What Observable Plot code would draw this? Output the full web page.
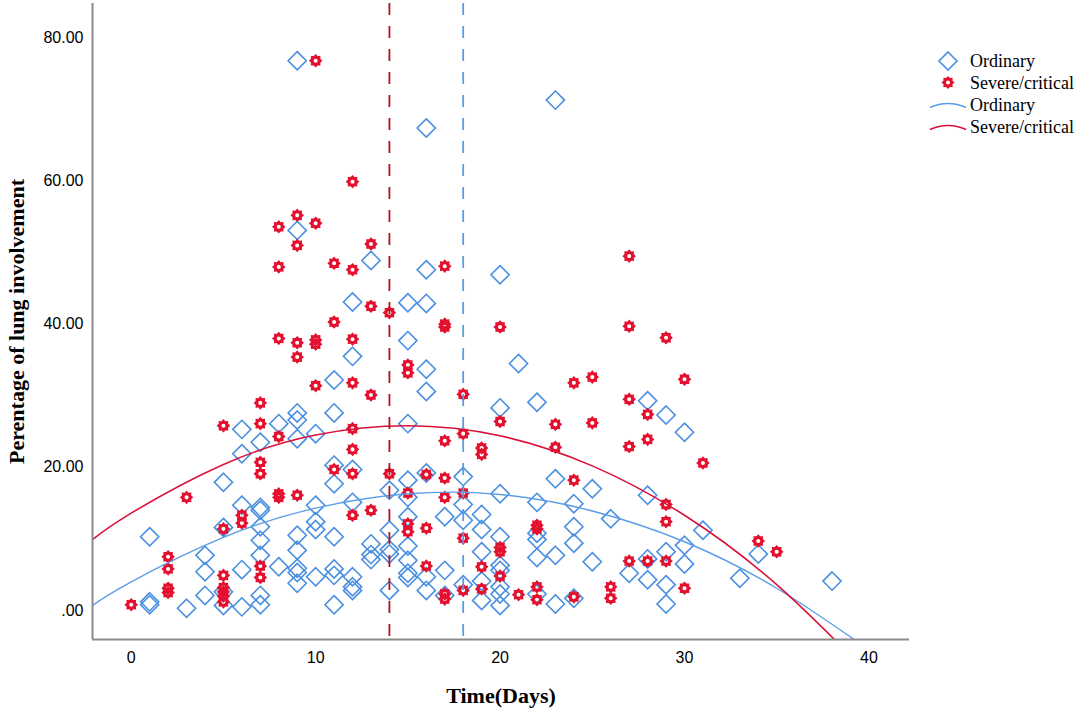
<!DOCTYPE html>
<html>
<head>
<meta charset="utf-8">
<script src="https://cdn.jsdelivr.net/npm/d3@7"></script>
<script src="https://cdn.jsdelivr.net/npm/@observablehq/plot@0.6"></script>
<style>
  html, body { margin: 0; padding: 0; background: #fff; }
  #wrap { position: relative; width: 1084px; height: 713px; }
  #legend { position: absolute; left: 920px; top: 44px; }
</style>
</head>
<body>
<div id="wrap"></div>
<script>
// ---- data: [day, percentage] ----
const ordinary = [
  [1,10.3],[1,1.2],[1,0.8],
  [3,0.3],
  [4,7.7],[4,5.4],[4,2.1],
  [5,17.9],[5,11.6],[5,2.6],[5,0.7],
  [6,25.3],[6,21.9],[6,14.7],[6,5.7],[6,0.5],
  [7,23.5],[7,14.4],[7,14.0],[7,11.7],[7,9.8],[7,7.7],[7,2.1],[7,0.8],
  [8,26.1],[8,6.1],
  [9,76.8],[9,53.1],[9,27.6],[9,26.6],[9,24.0],[9,10.5],[9,8.4],[9,5.9],[9,5.3],[9,3.8],
  [10,24.7],[10,14.7],[10,12.4],[10,11.3],[10,4.7],
  [11,32.2],[11,27.6],[11,20.3],[11,17.7],[11,10.3],[11,5.8],[11,4.9],[11,0.8],
  [12,43.1],[12,35.5],[12,19.7],[12,15.1],[12,4.7],[12,3.3],[12,2.8],
  [13,48.9],[13,9.3],[13,7.8],[13,7.1],
  [14,16.8],[14,11.2],[14,8.5],[14,7.9],[14,2.8],
  [15,43.0],[15,37.7],[15,26.1],[15,18.2],[15,15.8],[15,13.1],[15,9.0],[15,7.0],[15,5.2],[15,4.6],
  [16,67.4],[16,47.6],[16,42.9],[16,33.7],[16,30.6],[16,19.2],[16,4.7],[16,2.8],
  [17,13.1],[17,5.6],[17,2.1],
  [18,18.7],[18,14.8],[18,12.6],[18,3.6],
  [19,13.4],[19,11.3],[19,8.2],[19,4.1],[19,1.4],
  [20,46.9],[20,28.3],[20,16.3],[20,10.3],[20,6.3],[20,5.6],[20,3.3],[20,2.3],[20,0.7],
  [21,34.5],
  [22,29.1],[22,15.1],[22,10.8],[22,9.9],[22,7.4],[22,2.3],
  [23,71.3],[23,18.4],[23,7.7],[23,0.9],
  [24,14.9],[24,11.7],[24,9.4],[24,1.7],
  [25,17.0],[25,6.8],
  [26,12.8],
  [27,5.2],
  [28,29.3],[28,16.1],[28,7.2],[28,4.3],
  [29,27.3],[29,8.2],[29,3.6],[29,0.9],
  [30,24.9],[30,9.1],[30,6.5],
  [31,11.2],
  [33,4.5],
  [34,7.9],
  [38,4.1]
];

const severe = [
  [0,0.8],
  [2,7.5],[2,5.8],[2,3.1],[2,2.5],
  [3,15.8],
  [5,25.8],[5,11.4],[5,4.9],[5,3.2],[5,2.6],[5,2.0],[5,1.2],
  [6,13.3],[6,12.2],
  [7,29.0],[7,26.1],[7,20.7],[7,19.1],[7,6.2],[7,4.6],
  [8,53.6],[8,48.0],[8,38.0],[8,24.3],[8,16.3],[8,15.8],
  [9,55.2],[9,51.0],[9,37.4],[9,35.4],[9,16.1],
  [10,76.8],[10,54.1],[10,37.8],[10,37.2],[10,31.4],
  [11,48.5],[11,40.3],[11,19.7],
  [12,59.9],[12,47.6],[12,37.9],[12,31.8],[12,25.4],[12,22.5],[12,19.1],[12,13.3],
  [13,51.2],[13,42.5],[13,30.1],[13,14.0],
  [14,41.6],[14,19.1],
  [15,34.3],[15,33.2],[15,16.4],[15,12.1],[15,11.0],
  [16,19.0],[16,11.5],[16,6.2],
  [17,48.1],[17,40.0],[17,39.6],[17,23.7],[17,18.5],[17,15.8],[17,2.3],[17,1.6],
  [18,30.2],[18,24.7],[18,16.4],[18,10.1],[18,2.8],
  [19,22.7],[19,21.8],[19,6.1],[19,3.0],
  [20,39.6],[20,26.4],[20,8.8],[20,8.2],[20,4.8],
  [21,2.2],
  [22,11.9],[22,11.4],[22,3.3],[22,1.5],
  [23,26.0],[23,22.8],
  [24,31.8],[24,18.2],[24,1.9],
  [25,32.6],[25,26.2],
  [26,3.3],[26,1.7],
  [27,49.5],[27,39.7],[27,29.5],[27,22.9],[27,6.9],
  [28,27.4],[28,23.9],[28,6.9],
  [29,38.1],[29,14.8],[29,12.4],[29,6.9],
  [30,32.3],[30,3.1],
  [31,20.6],
  [34,9.7],
  [35,8.2]
];

// fitted curves, points
const fitOrdinaryX = [-2.1, 0, 5, 10, 15, 20, 25, 30, 35, 40];
const fitOrdinaryY = [0.7, 4.0, 10.2, 14.3, 16.3, 16.2, 13.9, 9.6, 3.1, -5.5];
const fitSevereX = [-2.1, 0, 5, 10, 15, 20, 25, 30, 35, 40];
const fitSevereY = [9.9, 13.6, 20.4, 24.5, 25.8, 24.4, 20.2, 13.3, 3.6, -8.9];

// medians (vertical dashed lines)
const medianOrdinary = [18];
const medianSevere = [14];

const xTicks = [0, 10, 20, 30, 40];
const yTicks = [0, 20, 40, 60, 80];

const xDomain = [-2.1, 42.2];
const yDomain = [-4.06, 84.8];

const BLUE = "#4a8fe0";
const RED = "#e3102e";
const BLUE_LINE = "#5b9ee6";
const RED_LINE = "#d9123a";
const RED_DASH = "#b5121b";
const BLUE_DASH = "#5a9be6";
const AXIS = "#8a8a8a";

const fitO = fitOrdinaryX.map((x, i) => ({x, y: fitOrdinaryY[i]}));
const fitS = fitSevereX.map((x, i) => ({x, y: fitSevereY[i]}));

// gear-like star symbol with a small white hole
const gear = {
  draw(ctx, size) {
    const R = Math.sqrt(size / Math.PI);
    const r1 = R * 0.74, hole = R * 0.3, n = 8;
    for (let i = 0; i < 2 * n; i++) {
      const a = (i * Math.PI) / n - Math.PI / 2;
      const rr = i % 2 === 0 ? R : r1;
      const x = rr * Math.cos(a), y = rr * Math.sin(a);
      if (i === 0) ctx.moveTo(x, y); else ctx.lineTo(x, y);
    }
    ctx.closePath();
    ctx.moveTo(hole, 0);
    ctx.arc(0, 0, hole, 0, 2 * Math.PI, true);
    ctx.closePath();
  }
};

const SERIF = "'Liberation Serif', 'Times New Roman', serif";
const SANS = "'Liberation Sans', Arial, sans-serif";

const chart = Plot.plot({
  width: 1084,
  height: 713,
  marginLeft: 92,
  marginRight: 175,
  marginTop: 3,
  marginBottom: 74,
  style: {fontFamily: SANS, fontSize: "16px", background: "white", overflow: "visible"},
  x: {domain: xDomain},
  y: {domain: yDomain},
  marks: [
    Plot.axisX({ticks: xTicks, tickSize: 0, tickPadding: 12, fontSize: 16, label: null, tickFormat: d => String(d)}),
    Plot.axisY({ticks: yTicks, tickSize: 0, tickPadding: 9, fontSize: 16, label: null,
      tickFormat: d => d === 0 ? ".00" : d.toFixed(2)}),
    Plot.dot(ordinary, {x: d => d[0], y: d => d[1], symbol: "diamond2", r: 8.2,
      stroke: BLUE, strokeWidth: 1.6, fill: "none"}),
    Plot.dot(severe, {x: d => d[0], y: d => d[1], symbol: gear, r: 6.8,
      fill: RED, stroke: "none"}),
    Plot.line(fitO, {x: "x", y: "y", curve: "natural", stroke: BLUE_LINE, strokeWidth: 1.4, clip: true}),
    Plot.line(fitS, {x: "x", y: "y", curve: "natural", stroke: RED_LINE, strokeWidth: 1.6, clip: true}),
    Plot.ruleX(medianSevere, {stroke: RED_DASH, strokeWidth: 1.8, strokeDasharray: "12,11"}),
    Plot.ruleX(medianOrdinary, {stroke: BLUE_DASH, strokeWidth: 1.8, strokeDasharray: "12,11"}),
    Plot.ruleX([xDomain[0]], {stroke: AXIS, strokeWidth: 2}),
    Plot.ruleY([yDomain[0]], {stroke: AXIS, strokeWidth: 2, x1: xDomain[0], x2: xDomain[1]}),
    Plot.text(["Time(Days)"], {frameAnchor: "bottom", dy: 56, lineAnchor: "middle", textAnchor: "middle",
      fontFamily: SERIF, fontWeight: "bold", fontSize: 22, fill: "black"}),
    Plot.text(["Perentage of lung involvement"], {frameAnchor: "left", dx: -76, rotate: -90,
      textAnchor: "middle", lineAnchor: "middle",
      fontFamily: SERIF, fontWeight: "bold", fontSize: 22, fill: "black"})
  ]
});

const wrap = document.getElementById("wrap");
wrap.appendChild(chart);

// legend (right side)
const legendItems = ["Ordinary", "Severe/critical", "Ordinary", "Severe/critical"];
const ns = "http://www.w3.org/2000/svg";
const lg = document.createElementNS(ns, "svg");
lg.setAttribute("id", "legend");
lg.setAttribute("width", "164");
lg.setAttribute("height", "100");
const rowY = [17, 38.5, 60.5, 82.5];
const sx = 28;
// diamond
{
  const p = document.createElementNS(ns, "path");
  const r = 9;
  p.setAttribute("d", `M${sx},${rowY[0]-r}L${sx+r},${rowY[0]}L${sx},${rowY[0]+r}L${sx-r},${rowY[0]}Z`);
  p.setAttribute("fill", "none"); p.setAttribute("stroke", BLUE); p.setAttribute("stroke-width", "1.6");
  lg.appendChild(p);
}
// star
{
  const p = document.createElementNS(ns, "path");
  const path = d3.path();
  gear.draw(path, Math.PI * 6.6 * 6.6);
  p.setAttribute("d", path.toString());
  p.setAttribute("transform", `translate(${sx},${rowY[1]})`);
  p.setAttribute("fill", RED);
  lg.appendChild(p);
}
// lines
[[BLUE_LINE, rowY[2]], [RED_LINE, rowY[3]]].forEach(([c, y]) => {
  const p = document.createElementNS(ns, "path");
  p.setAttribute("d", `M10,${y+3}Q28,${y-5} 46,${y+3}`);
  p.setAttribute("fill", "none"); p.setAttribute("stroke", c); p.setAttribute("stroke-width", "1.6");
  lg.appendChild(p);
});
legendItems.forEach((t, i) => {
  const tx = document.createElementNS(ns, "text");
  tx.setAttribute("x", "50");
  tx.setAttribute("y", rowY[i] + 6);
  tx.setAttribute("font-family", SERIF);
  tx.setAttribute("font-size", "18");
  tx.setAttribute("fill", "black");
  tx.textContent = t;
  lg.appendChild(tx);
});
wrap.appendChild(lg);
</script>
</body>
</html>
